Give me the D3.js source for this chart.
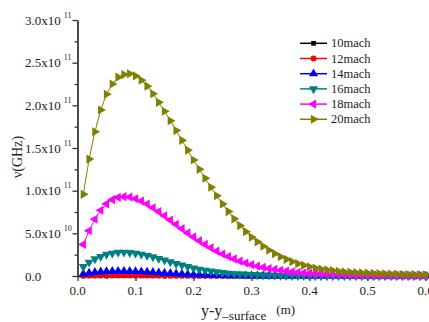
<!DOCTYPE html>
<html lang="en">
<head>
<meta charset="UTF-8">
<title>v(GHz) vs y-y_surface</title>
<script src="https://d3js.org/d3.v7.min.js"></script>
<style>
  body { margin: 0; background: #fff; overflow: hidden; }
  svg { display: block; font-family: "Liberation Serif", "DejaVu Serif", serif; }
  .axis path, .axis line { stroke: #333; stroke-width: 1.3px; }
  .axis text { display: none; }
</style>
</head>
<body>
<svg id="chart" width="429" height="322"></svg>
<script>
// distance from surface (m)
const xs = [0.01,0.02,0.03,0.04,0.05,0.06,0.07,0.08,0.09,0.10,
            0.11,0.12,0.13,0.14,0.15,0.16,0.17,0.18,0.19,0.20,
            0.21,0.22,0.23,0.24,0.25,0.26,0.27,0.28,0.29,0.30,
            0.31,0.32,0.33,0.34,0.35,0.36,0.37,0.38,0.39,0.40,
            0.41,0.42,0.43,0.44,0.45,0.46,0.47,0.48,0.49,0.50,
            0.51,0.52,0.53,0.54,0.55,0.56,0.57,0.58,0.59,0.60];

// frequency, in units of 1e11 GHz
const mach10 = [0.0005,0.0008,0.0010,0.0011,0.0012,0.0012,0.0012,0.0012,0.0012,0.0011,
                0.0011,0.0010,0.0009,0.0008,0.0008,0.0007,0.0006,0.0005,0.0005,0.0004,
                0.0004,0.0003,0.0003,0.0002,0.0002,0.0002,0.0002,0.0001,0.0001,0.0001,
                0.0001,0.0001,0.0001,0.0001,0.0001,0.0001,0.0001,0.0001,0.0001,0.0001,
                0.0001,0.0001,0.0001,0.0001,0.0001,0.0001,0.0001,0.0001,0.0001,0.0001,
                0.0001,0.0001,0.0001,0.0001,0.0001,0.0001,0.0001,0.0001,0.0001,0.0001];
const mach12 = [0.004,0.006,0.007,0.008,0.0085,0.009,0.009,0.009,0.009,0.0088,
                0.0085,0.008,0.0075,0.007,0.0064,0.0058,0.0052,0.0046,0.004,0.0035,
                0.003,0.0026,0.0022,0.0019,0.0016,0.0013,0.0011,0.0009,0.0008,0.0006,
                0.0005,0.0004,0.0004,0.0003,0.0003,0.0002,0.0002,0.0002,0.0001,0.0001,
                0.0001,0.0001,0.0001,0.0001,0.0001,0.0001,0.0001,0.0001,0.0001,0.0001,
                0.0001,0.0001,0.0001,0.0001,0.0001,0.0001,0.0001,0.0001,0.0001,0.0001];
const mach14 = [0.025,0.035,0.043,0.049,0.053,0.055,0.056,0.056,0.055,0.053,
                0.050,0.047,0.043,0.039,0.035,0.031,0.027,0.023,0.020,0.017,
                0.014,0.012,0.010,0.008,0.0066,0.0054,0.0044,0.0036,0.0029,0.0023,
                0.0019,0.0015,0.0012,0.0010,0.0008,0.0007,0.0006,0.0005,0.0004,0.0003,
                0.0003,0.0002,0.0002,0.0002,0.0001,0.0001,0.0001,0.0001,0.0001,0.0001,
                0.0001,0.0001,0.0001,0.0001,0.0001,0.0001,0.0001,0.0001,0.0001,0.0001];
const mach16 = [0.11,0.16,0.20,0.226,0.252,0.266,0.276,0.278,0.274,0.266,
                0.254,0.239,0.223,0.204,0.185,0.165,0.145,0.126,0.109,0.093,
                0.079,0.067,0.056,0.047,0.039,0.032,0.026,0.022,0.018,0.015,
                0.012,0.010,0.008,0.0065,0.0053,0.0043,0.0035,0.0028,0.0023,0.0019,
                0.0016,0.0013,0.0011,0.0009,0.0008,0.0007,0.0006,0.0005,0.0004,0.0004,
                0.0003,0.0003,0.0003,0.0002,0.0002,0.0002,0.0002,0.0002,0.0001,0.0001];
const mach18 = [0.37,0.53,0.665,0.77,0.845,0.895,0.922,0.93,0.925,0.905,
                0.878,0.843,0.80,0.755,0.705,0.655,0.605,0.555,0.505,0.458,
                0.412,0.37,0.33,0.292,0.258,0.228,0.20,0.175,0.153,0.133,
                0.116,0.101,0.088,0.077,0.067,0.058,0.05,0.044,0.038,0.033,
                0.029,0.025,0.022,0.019,0.017,0.015,0.013,0.011,0.010,0.009,
                0.008,0.007,0.006,0.005,0.0045,0.004,0.0035,0.003,0.0027,0.0024];
const mach20 = [0.957,1.37,1.69,1.945,2.13,2.25,2.33,2.36,2.37,2.345,
                2.295,2.225,2.135,2.035,1.93,1.82,1.705,1.59,1.475,1.36,
                1.25,1.145,1.04,0.94,0.845,0.755,0.67,0.59,0.52,0.455,
                0.40,0.348,0.302,0.262,0.226,0.195,0.168,0.145,0.125,0.108,
                0.094,0.082,0.072,0.063,0.056,0.05,0.045,0.041,0.037,0.034,
                0.031,0.028,0.026,0.024,0.022,0.02,0.018,0.016,0.0145,0.013];

const seriesNames = ["10mach","12mach","14mach","16mach","18mach","20mach"];
const seriesValues = [mach10, mach12, mach14, mach16, mach18, mach20];
const seriesColors = ["#000000","#ff0000","#0000ff","#008080","#ff00ff","#808000"];

const xTickValues = [0, 0.1, 0.2, 0.3, 0.4, 0.5, 0.6];
const xTickLabels = ["0.0","0.1","0.2","0.3","0.4","0.5","0.6"];
const yTickValues = [0, 0.5, 1.0, 1.5, 2.0, 2.5, 3.0];
const yTickMantissa = ["0.0","5.0x10","1.0x10","1.5x10","2.0x10","2.5x10","3.0x10"];
const yTickExponent = ["","10","11","11","11","11","11"];

const svg = d3.select("#chart");

const x = d3.scaleLinear().domain([0, 0.62]).range([77.5, 77.5 + 0.62 * 580]);
const y = d3.scaleLinear().domain([0, 3]).range([276, 20]);

// axes
svg.append("g").attr("class", "axis")
    .attr("transform", "translate(0,276)")
    .call(d3.axisBottom(x).tickValues(xTickValues).tickSize(5).tickSizeOuter(0));
svg.append("g").attr("class", "axis")
    .attr("transform", "translate(0,276)")
    .call(d3.axisBottom(x).tickValues(d3.range(0.05, 0.62, 0.1)).tickSize(3).tickSizeOuter(0));
svg.append("g").attr("class", "axis")
    .attr("transform", "translate(77.5,0)")
    .call(d3.axisLeft(y).tickValues(yTickValues).tickSize(5).tickSizeOuter(0));
svg.append("g").attr("class", "axis")
    .attr("transform", "translate(77.5,0)")
    .call(d3.axisLeft(y).tickValues(d3.range(0.25, 3, 0.5)).tickSize(3).tickSizeOuter(0));

// tick labels
svg.append("g").selectAll("text")
    .data(xTickValues)
    .join("text")
    .attr("x", d => x(d))
    .attr("y", 295)
    .attr("text-anchor", "middle")
    .attr("font-size", 13)
    .attr("fill", "#222")
    .text((d, i) => xTickLabels[i]);

const yl = svg.append("g").selectAll("text")
    .data(yTickValues)
    .join("text")
    .attr("x", 25)
    .attr("y", d => y(d) + 4.5)
    .attr("font-size", 13)
    .attr("fill", "#222");
yl.append("tspan").text((d, i) => yTickMantissa[i]);
yl.append("tspan")
    .attr("font-size", 8)
    .attr("dx", 3)
    .attr("dy", -7)
    .text((d, i) => yTickExponent[i]);

// axis titles
svg.append("text")
    .attr("transform", "translate(22,157) rotate(-90)")
    .attr("text-anchor", "middle")
    .attr("font-size", 14)
    .attr("fill", "#222")
    .text("ν(GHz)");

const xt = svg.append("text")
    .attr("x", 201)
    .attr("y", 316)
    .attr("font-size", 16)
    .attr("fill", "#222");
xt.append("tspan").text("y-y");
xt.append("tspan").attr("font-size", 13).attr("dy", 4).text("–surface");
xt.append("tspan").attr("font-size", 13).attr("dx", 10).attr("dy", -6).text("(m)");

// markers
const symbolTypes = [d3.symbolSquare, d3.symbolCircle, d3.symbolTriangle,
                     d3.symbolTriangle, d3.symbolTriangle, d3.symbolTriangle];
const symbolRot = [0, 0, 0, 180, -90, 90];
const symbolSize = [22, 26, 36, 36, 36, 36];

const line = d3.line().x((d, i) => x(xs[i])).y(d => y(d));

seriesValues.forEach((vals, s) => {
    const g = svg.append("g");
    g.append("path")
        .attr("d", line(vals))
        .attr("fill", "none")
        .attr("stroke", seriesColors[s])
        .attr("stroke-width", 1);
    const sym = d3.symbol().type(symbolTypes[s]).size(symbolSize[s]);
    g.selectAll("path.m")
        .data(vals)
        .join("path")
        .attr("class", "m")
        .attr("d", sym)
        .attr("fill", seriesColors[s])
        .attr("transform", (d, i) => `translate(${x(xs[i])},${y(d)}) rotate(${symbolRot[s]})`);
});

// legend
const legend = svg.append("g");
seriesNames.forEach((name, s) => {
    const ly = 43.3 + s * 15.2;
    legend.append("line")
        .attr("x1", 300).attr("x2", 327)
        .attr("y1", ly).attr("y2", ly)
        .attr("stroke", seriesColors[s])
        .attr("stroke-width", 1.5);
    legend.append("path")
        .attr("d", d3.symbol().type(symbolTypes[s]).size(symbolSize[s])())
        .attr("fill", seriesColors[s])
        .attr("transform", `translate(313.5,${ly}) rotate(${symbolRot[s]})`);
    legend.append("text")
        .attr("x", 331)
        .attr("y", ly + 4)
        .attr("font-size", 12.5)
        .attr("fill", "#222")
        .text(name);
});
</script>
</body>
</html>
